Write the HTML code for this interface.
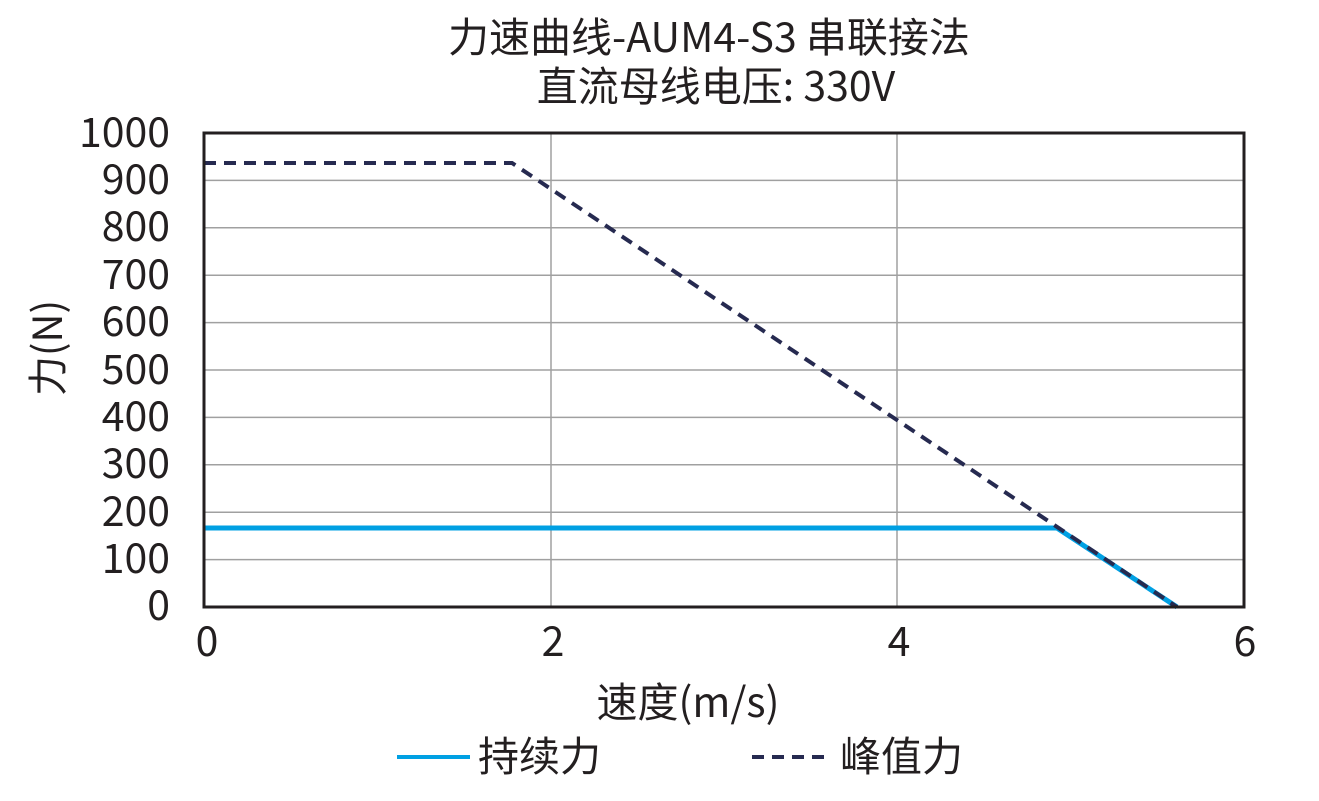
<!DOCTYPE html>
<html><head><meta charset="utf-8"><style>
body{margin:0;background:#fff;}
svg text{font-family:"Noto Sans CJK SC","Liberation Sans",sans-serif;fill:#231f20;}
</style></head><body>
<svg width="1319" height="796" xmlns="http://www.w3.org/2000/svg">
<text x="709" y="52" font-size="41" text-anchor="middle">力速曲线-AUM4-S3 串联接法</text>
<text x="716" y="101" font-size="41" text-anchor="middle">直流母线电压: 330V</text>
<g stroke="#a0a0a0" stroke-width="1.5">
<line x1="551" y1="133" x2="551" y2="607"/><line x1="897" y1="133" x2="897" y2="607"/>
<line x1="204" y1="180.4" x2="1244" y2="180.4"/><line x1="204" y1="227.8" x2="1244" y2="227.8"/>
<line x1="204" y1="275.2" x2="1244" y2="275.2"/><line x1="204" y1="322.6" x2="1244" y2="322.6"/>
<line x1="204" y1="370" x2="1244" y2="370"/><line x1="204" y1="417.4" x2="1244" y2="417.4"/>
<line x1="204" y1="464.8" x2="1244" y2="464.8"/><line x1="204" y1="512.2" x2="1244" y2="512.2"/>
<line x1="204" y1="559.6" x2="1244" y2="559.6"/>
</g>
<polyline points="204,528 1057,528 1177,607" fill="none" stroke="#00a0e3" stroke-width="5"/>
<polyline points="204,163 512,163 1177,607" fill="none" stroke="#262a50" stroke-width="4" stroke-dasharray="12,8"/>
<rect x="204" y="133" width="1040" height="474" fill="none" stroke="#231f20" stroke-width="3"/>
<g font-size="41" text-anchor="end">
<text x="170" y="147">1000</text><text x="170" y="194">900</text><text x="170" y="241">800</text>
<text x="170" y="289">700</text><text x="170" y="336">600</text><text x="170" y="384">500</text>
<text x="170" y="431">400</text><text x="170" y="478">300</text><text x="170" y="526">200</text>
<text x="170" y="573">100</text><text x="170" y="620">0</text>
</g>
<g font-size="41" text-anchor="middle">
<text x="207" y="656">0</text><text x="553" y="656">2</text><text x="899" y="656">4</text><text x="1245" y="656">6</text>
<text x="688" y="717">速度(m/s)</text>
</g>
<text transform="translate(62,348) rotate(-90)" font-size="40" text-anchor="middle">力(N)</text>
<line x1="397" y1="757" x2="470" y2="757" stroke="#00a0e3" stroke-width="4"/>
<text x="478" y="771" font-size="41">持续力</text>
<line x1="752" y1="757" x2="832" y2="757" stroke="#262a50" stroke-width="4" stroke-dasharray="12,8"/>
<text x="840" y="771" font-size="41">峰值力</text>
</svg>
</body></html>
